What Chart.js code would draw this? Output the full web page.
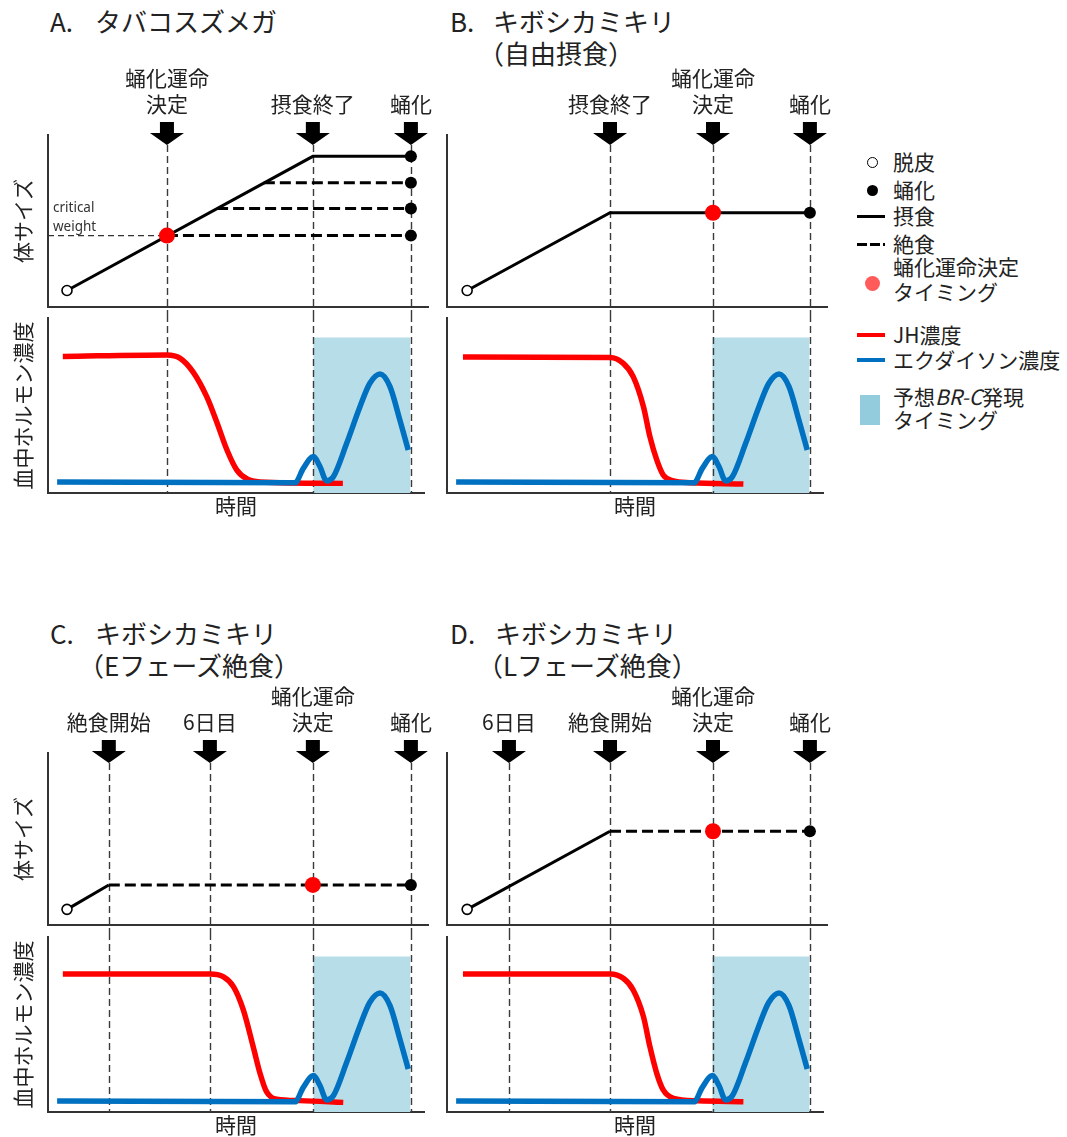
<!DOCTYPE html>
<html lang="ja">
<head>
<meta charset="utf-8">
<title>蛹化運命決定とホルモン動態</title>
<script src="https://cdn.jsdelivr.net/npm/chart.js@4.4.1/dist/chart.umd.min.js"></script>
<style>
  html, body { margin: 0; padding: 0; background: #fff; overflow: hidden; }
  body { width: 1067px; height: 1137px; position: relative;
         font-family: "Noto Sans CJK JP", "Noto Sans", sans-serif; color: #222; }
  canvas { position: absolute; }
  .ttl { position: absolute; white-space: nowrap; font-size: 26px; line-height: 30px; }
  .lg  { position: absolute; white-space: nowrap; font-size: 21px; line-height: 24px; left: 893px; }
  .sw  { position: absolute; box-sizing: border-box; }
</style>
</head>
<body>
<div id="titles"></div>

<!-- legend -->
<div class="sw" style="left:866.5px;top:156.5px;width:11px;height:11px;border:1.5px solid #000;border-radius:50%;background:#fff"></div>
<div class="lg" style="top:149px">脱皮</div>
<div class="sw" style="left:866.5px;top:184.5px;width:11px;height:11px;border-radius:50%;background:#000"></div>
<div class="lg" style="top:177px">蛹化</div>
<div class="sw" style="left:857px;top:214.5px;width:28px;height:3px;background:#000"></div>
<div class="lg" style="top:203px">摂食</div>
<div class="sw" style="left:857px;top:242.5px;width:28px;height:3px;background:repeating-linear-gradient(90deg,#000 0 10px,transparent 10px 13px)"></div>
<div class="lg" style="top:231px">絶食</div>
<div class="sw" style="left:864.5px;top:275.5px;width:15px;height:15px;border-radius:50%;background:#ff5b5b"></div>
<div class="lg" style="top:254px">蛹化運命決定</div>
<div class="lg" style="top:279px">タイミング</div>
<div class="sw" style="left:857px;top:333px;width:28px;height:4px;background:#ff0000"></div>
<div class="lg" style="top:322px">JH濃度</div>
<div class="sw" style="left:857px;top:358px;width:28px;height:4px;background:#0070c0"></div>
<div class="lg" style="top:347px">エクダイソン濃度</div>
<div class="sw" style="left:860px;top:395px;width:20px;height:30px;background:#93cddd"></div>
<div class="lg" style="top:384px">予想<i>BR-C</i>発現</div>
<div class="lg" style="top:407px">タイミング</div>

<canvas id="sizeA" width="440" height="255" style="left:0;top:60px"></canvas>
<canvas id="hormA" width="440" height="210" style="left:0;top:315px"></canvas>
<canvas id="sizeB" width="420" height="255" style="left:430px;top:60px"></canvas>
<canvas id="hormB" width="420" height="210" style="left:430px;top:315px"></canvas>
<canvas id="sizeC" width="440" height="253" style="left:0;top:680px"></canvas>
<canvas id="hormC" width="440" height="210" style="left:0;top:933px"></canvas>
<canvas id="sizeD" width="420" height="253" style="left:430px;top:680px"></canvas>
<canvas id="hormD" width="420" height="210" style="left:430px;top:933px"></canvas>

<script>
const FONT = '"Noto Sans CJK JP", "Noto Sans", sans-serif';

// ---- panel headings ----
const panelLetters    = ['A.', 'B.', 'C.', 'D.'];
const panelSpecies    = ['タバコスズメガ', 'キボシカミキリ', 'キボシカミキリ', 'キボシカミキリ'];
const panelConditions = ['', '（自由摂食）', '（Eフェーズ絶食）', '（Lフェーズ絶食）'];

// ---- event arrows: time (0-100 arbitrary units) and label lines ----
const eventTimesA  = [31.3, 69.7, 95.5];
const eventLabelsA = [['蛹化運命', '決定'], ['摂食終了'], ['蛹化']];
const eventTimesB  = [42.9, 70, 95.5];
const eventLabelsB = [['摂食終了'], ['蛹化運命', '決定'], ['蛹化']];
const eventTimesC  = [16, 42.6, 69.7, 95.5];
const eventLabelsC = [['絶食開始'], ['6日目'], ['蛹化運命', '決定'], ['蛹化']];
const eventTimesD  = [16.3, 42.9, 70, 95.5];
const eventLabelsD = [['6日目'], ['絶食開始'], ['蛹化運命', '決定'], ['蛹化']];

// ---- body size (0-100) ----
// A: fed growth, plus starvation branches leaving the growth line
const fedTimesA        = [5, 69.7, 95.5];
const fedSizesA        = [9.6, 87.6, 87.6];
const starvedFromA     = [31.3, 44.5, 56.8];
const starvedSizesA    = [41.5, 57.2, 72.2];
const pupationTimeA    = 95.5;
const criticalWeightA  = 41.5;
const decisionA        = [31.3, 41.5];
// B: free feeding
const fedTimesB        = [5.3, 42.9, 95.5];
const fedSizesB        = [9.6, 54.8, 54.8];
const decisionB        = [70, 54.8];
// C: early-phase starvation
const fedTimesC        = [5, 16];
const fedSizesC        = [9.1, 23.3];
const starvedTimesC    = [16, 95.5];
const starvedSizesC    = [23.3, 23.3];
const decisionC        = [69.7, 23.3];
// D: late-phase starvation
const fedTimesD        = [5.3, 42.9];
const fedSizesD        = [9.1, 54.5];
const starvedTimesD    = [42.9, 95.5];
const starvedSizesD    = [54.5, 54.5];
const decisionD        = [70, 54.5];

// ---- haemolymph hormone titres (0-100) ----
const jhTimesA  = [3.9, 31.3, 34.7, 38.2, 41.8, 44.5, 47.1, 49.7, 52.4, 55.8, 77.6];
const jhLevelsA = [78, 78.9, 77.1, 69.1, 54.9, 40, 24.6, 13.1, 8, 6.3, 5.5];
const jhTimesB  = [4.2, 42.9, 46.4, 49, 51.7, 53.4, 55.2, 56.9, 59.6, 64, 78];
const jhLevelsB = [77.7, 77.4, 74.1, 66.5, 49.3, 32.2, 18.9, 10.3, 6.9, 5.9, 5.1];
const jhTimesC  = [3.9, 42.6, 46.1, 48.8, 51.4, 54, 55.8, 57.5, 60.2, 66.3, 77.7];
const jhLevelsC = [78.9, 78.9, 77.3, 71.6, 58.3, 37.3, 22.1, 11.6, 7.3, 6.5, 5.5];
const jhTimesD  = [4.2, 42.9, 46.4, 49, 51.7, 53.4, 55.2, 56.9, 59.6, 66, 78];
const jhLevelsD = [78.9, 78.9, 76.4, 69.7, 54.5, 37.3, 22.1, 12.6, 7.8, 6.4, 5.9];
const ecdysoneTimes  = [2.4, 65, 67.2, 69.8, 71.6, 73.3, 75.1, 78.6, 82.1, 84.7, 87.4, 90, 92.6, 94.8];
const ecdysoneLevels = [6.3, 5.8, 14.1, 20.8, 15, 6.9, 9.3, 28.4, 49.3, 62.7, 68, 60.8, 41.7, 24.6];
// predicted BR-C expression window
const brcWindow = [69.8, 95.4];
const brcLevel  = 88.8;

// ---- helpers ----
const pts = (ts, vs) => ts.map((t, i) => ({ x: t, y: vs[i] }));

function markers(points, r, fill, stroke, bw) {
  return { data: points, showLine: false, pointRadius: r, pointHoverRadius: r,
           pointBackgroundColor: fill, pointBorderColor: stroke, pointBorderWidth: bw };
}
function sizeLine(points, dashed) {
  return { data: points, borderColor: '#000', borderWidth: 3, borderDash: dashed ? [11, 5] : [],
           pointRadius: 0, tension: 0, borderCapStyle: 'butt' };
}
function hormoneLine(points, color) {
  return { data: points, borderColor: color, borderWidth: 5.5, pointRadius: 0,
           cubicInterpolationMode: 'monotone', borderCapStyle: 'butt' };
}

function drawGuides(chart, times, fromArrow) {
  const { ctx, chartArea, scales: { x } } = chart;
  ctx.save();
  ctx.strokeStyle = '#3a3a3a';
  ctx.lineWidth = 1.4;
  ctx.setLineDash([7, 4]);
  times.forEach(t => {
    const px = Math.round(x.getPixelForValue(t)) + 0.5;
    ctx.beginPath();
    ctx.moveTo(px, fromArrow ? chartArea.top + 10 : 0);
    ctx.lineTo(px, fromArrow ? chart.height : chartArea.bottom);
    ctx.stroke();
  });
  ctx.restore();
}

// arrows, labels and guide lines above the body-size plot
function eventPlugin(times, labels) {
  return {
    id: 'events',
    beforeDatasetsDraw(chart) { drawGuides(chart, times, true); },
    afterDraw(chart) {
      const { ctx, chartArea: { top }, scales: { x } } = chart;
      ctx.save();
      times.forEach((t, i) => {
        const px = x.getPixelForValue(t);
        ctx.fillStyle = '#000';
        ctx.beginPath();
        ctx.moveTo(px - 7, top - 13);
        ctx.lineTo(px + 7, top - 13);
        ctx.lineTo(px + 7, top - 2);
        ctx.lineTo(px + 17, top - 2);
        ctx.lineTo(px, top + 10);
        ctx.lineTo(px - 17, top - 2);
        ctx.lineTo(px - 7, top - 2);
        ctx.closePath();
        ctx.fill();
        ctx.fillStyle = '#222';
        ctx.font = '21px ' + FONT;
        ctx.textAlign = 'center';
        ctx.textBaseline = 'middle';
        const lines = labels[i];
        lines.forEach((s, j) => ctx.fillText(s, px, top - 31 - 26 * (lines.length - 1 - j)));
      });
      ctx.restore();
    }
  };
}

// guide lines in the hormone plot, drawn just after the BR-C window
function guidePlugin(times, afterIndex) {
  return {
    id: 'guides',
    afterDatasetDraw(chart, args) { if (args.index === afterIndex) drawGuides(chart, times, false); }
  };
}

// "critical weight" annotation for panel A
const criticalLabel = {
  id: 'criticalLabel',
  afterDatasetsDraw(chart) {
    const { ctx, chartArea, scales: { y } } = chart;
    const py = y.getPixelForValue(criticalWeightA);
    ctx.save();
    ctx.fillStyle = '#333';
    ctx.font = '13.5px "Noto Sans", sans-serif';
    ctx.textAlign = 'left';
    ctx.textBaseline = 'middle';
    ctx.fillText('critical', chartArea.left + 5, py - 27);
    ctx.fillText('weight', chartArea.left + 5, py - 8);
    ctx.restore();
  }
};

const axisBorder = { display: true, color: '#333', width: 2 };
const noGrid = { display: false, drawTicks: false, tickLength: 0 };
function makeChart(id, datasets, cfg) {
  const title = (text, pad) => text
    ? { display: true, text, color: '#222', font: { family: FONT, size: 21, lineHeight: 1.2 }, padding: pad }
    : { display: false };
  return new Chart(document.getElementById(id), {
    type: 'line',
    data: { datasets },
    plugins: cfg.plugins,
    options: {
      responsive: false, animation: false, devicePixelRatio: 1, events: [],
      layout: { padding: cfg.padding },
      plugins: { legend: { display: false }, tooltip: { enabled: false } },
      scales: {
        x: { type: 'linear', min: 0, max: cfg.xMax, ticks: { display: false, padding: 0 }, grid: noGrid,
             border: axisBorder, title: title(cfg.xTitle, { top: 0, bottom: 2.4 }) },
        y: { type: 'linear', min: 0, max: 100, ticks: { display: false, padding: 0 }, grid: noGrid,
             border: axisBorder, title: title(cfg.yTitle, { top: 0, bottom: 12.4 }) }
      }
    }
  });
}

function hormoneSets(jhT, jhV) {
  return [
    hormoneLine(pts(ecdysoneTimes, ecdysoneLevels), '#0070c0'),
    hormoneLine(pts(jhT, jhV), '#ff0000'),
    { data: pts(brcWindow, [brcLevel, brcLevel]), fill: 'origin', backgroundColor: '#b7dee8',
      borderWidth: 0, pointRadius: 0 }
  ];
}

// ---- headings ----
const titleBoxes = [[50, 95, 80, 6], [450, 493, 478, 6], [50, 95, 78, 618], [450, 495, 477, 618]];
const titlesEl = document.getElementById('titles');
titleBoxes.forEach(([lx, sx, cx, ty], i) => {
  const add = (text, left, top) => {
    const d = document.createElement('div');
    d.className = 'ttl'; d.textContent = text;
    d.style.left = left + 'px'; d.style.top = top + 'px';
    titlesEl.appendChild(d);
  };
  add(panelLetters[i], lx, ty);
  add(panelSpecies[i], sx, ty);
  if (panelConditions[i]) add(panelConditions[i], cx, ty + 32);
});

// ---- panel A ----
makeChart('sizeA', [
  markers([{ x: decisionA[0], y: decisionA[1] }], 8, '#ff0000', '#ff0000', 0),
  markers(pts([fedSizesA[2], ...starvedSizesA].map(() => pupationTimeA), [fedSizesA[2], ...starvedSizesA]), 6, '#000', '#000', 0),
  markers([{ x: fedTimesA[0], y: fedSizesA[0] }], 5, '#fff', '#000', 1.6),
  sizeLine(pts(fedTimesA, fedSizesA), false),
  ...starvedFromA.map((t, i) => sizeLine(pts([t, pupationTimeA], [starvedSizesA[i], starvedSizesA[i]]), true)),
  { data: pts([0, decisionA[0]], [criticalWeightA, criticalWeightA]), borderColor: '#333', borderWidth: 1.2,
    borderDash: [6, 4], pointRadius: 0 }
], { xMax: 100, padding: { left: 10.4, right: 12, top: 75, bottom: 3 }, yTitle: '体サイズ',
     plugins: [eventPlugin(eventTimesA, eventLabelsA), criticalLabel] });

makeChart('hormA', hormoneSets(jhTimesA, jhLevelsA),
  { xMax: 98.95, padding: { left: 10.4, right: 16, top: 3, bottom: 4.4 }, yTitle: '血中ホルモン濃度', xTitle: '時間',
    plugins: [guidePlugin(eventTimesA, 2)] });

// ---- panel B ----
makeChart('sizeB', [
  markers([{ x: decisionB[0], y: decisionB[1] }], 8, '#ff0000', '#ff0000', 0),
  markers([{ x: fedTimesB[2], y: fedSizesB[2] }], 6, '#000', '#000', 0),
  markers([{ x: fedTimesB[0], y: fedSizesB[0] }], 5, '#fff', '#000', 1.6),
  sizeLine(pts(fedTimesB, fedSizesB), false)
], { xMax: 100, padding: { left: 17, right: 23, top: 75, bottom: 3 },
     plugins: [eventPlugin(eventTimesB, eventLabelsB)] });

makeChart('hormB', hormoneSets(jhTimesB, jhLevelsB),
  { xMax: 98.95, padding: { left: 17, right: 27, top: 3, bottom: 4.4 }, xTitle: '時間',
    plugins: [guidePlugin(eventTimesB, 2)] });

// ---- panel C ----
makeChart('sizeC', [
  markers([{ x: decisionC[0], y: decisionC[1] }], 8, '#ff0000', '#ff0000', 0),
  markers([{ x: starvedTimesC[1], y: starvedSizesC[1] }], 6, '#000', '#000', 0),
  markers([{ x: fedTimesC[0], y: fedSizesC[0] }], 5, '#fff', '#000', 1.6),
  sizeLine(pts(fedTimesC, fedSizesC), false),
  sizeLine(pts(starvedTimesC, starvedSizesC), true)
], { xMax: 100, padding: { left: 10.4, right: 12, top: 73, bottom: 4 }, yTitle: '体サイズ',
     plugins: [eventPlugin(eventTimesC, eventLabelsC)] });

makeChart('hormC', hormoneSets(jhTimesC, jhLevelsC),
  { xMax: 98.95, padding: { left: 10.4, right: 16, top: 4, bottom: 3.4 }, yTitle: '血中ホルモン濃度', xTitle: '時間',
    plugins: [guidePlugin(eventTimesC, 2)] });

// ---- panel D ----
makeChart('sizeD', [
  markers([{ x: decisionD[0], y: decisionD[1] }], 8, '#ff0000', '#ff0000', 0),
  markers([{ x: starvedTimesD[1], y: starvedSizesD[1] }], 6, '#000', '#000', 0),
  markers([{ x: fedTimesD[0], y: fedSizesD[0] }], 5, '#fff', '#000', 1.6),
  sizeLine(pts(fedTimesD, fedSizesD), false),
  sizeLine(pts(starvedTimesD, starvedSizesD), true)
], { xMax: 100, padding: { left: 17, right: 23, top: 73, bottom: 4 },
     plugins: [eventPlugin(eventTimesD, eventLabelsD)] });

makeChart('hormD', hormoneSets(jhTimesD, jhLevelsD),
  { xMax: 98.95, padding: { left: 17, right: 27, top: 4, bottom: 3.4 }, xTitle: '時間',
    plugins: [guidePlugin(eventTimesD, 2)] });
</script>
</body>
</html>
